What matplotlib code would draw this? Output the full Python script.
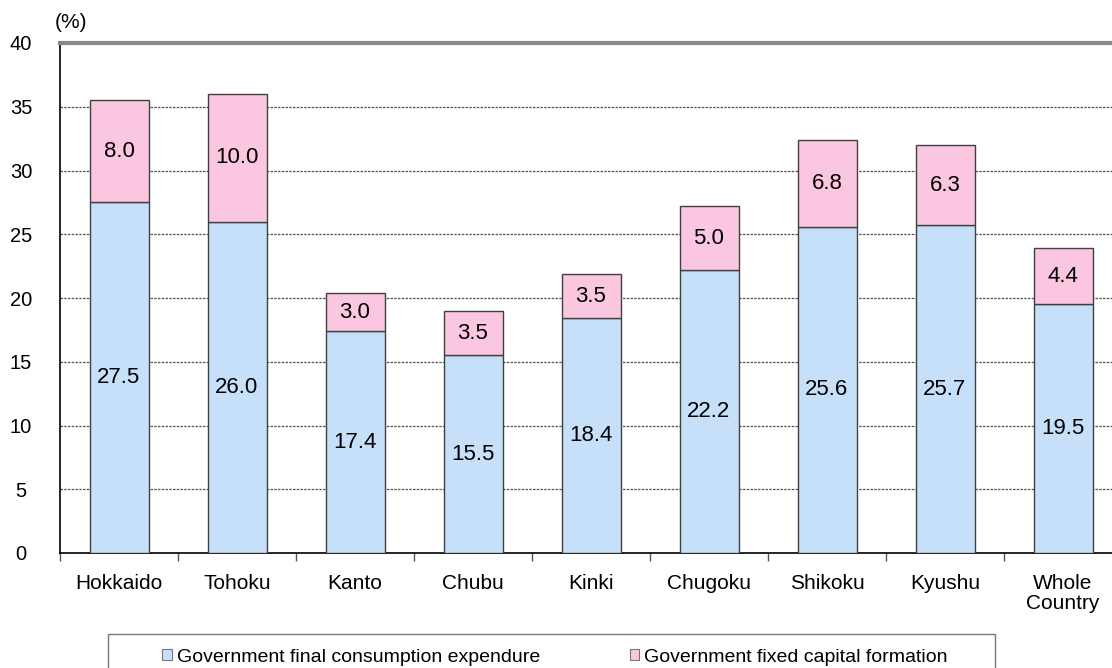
import matplotlib
matplotlib.use("Agg")
import matplotlib.pyplot as plt
from matplotlib.patches import Rectangle, Patch
import numpy as np

regions = ["Hokkaido", "Tohoku", "Kanto", "Chubu", "Kinki", "Chugoku",
           "Shikoku", "Kyushu", "Whole\nCountry"]
consumption = [27.5, 26.0, 17.4, 15.5, 18.4, 22.2, 25.6, 25.7, 19.5]
capital = [8.0, 10.0, 3.0, 3.5, 3.5, 5.0, 6.8, 6.3, 4.4]
series_names = ["Government final consumption expendure",
                "Government fixed capital formation"]
yticks = [0, 5, 10, 15, 20, 25, 30, 35, 40]

plt.rcParams['font.family'] = ['Liberation Sans', 'DejaVu Sans']

W, H = 1112, 668
fig = plt.figure(figsize=(W / 100, H / 100), dpi=100)
ax = fig.add_axes([60 / W, 1 - 553 / H, 1062 / W, 510 / H])

blue = "#c6e0f9"
pink = "#fbc6df"
edge = "#404040"
x = np.arange(len(regions))
ax.bar(x, consumption, width=0.5, color=blue, edgecolor=edge, linewidth=1.0, zorder=3)
ax.bar(x, capital, width=0.5, bottom=consumption, color=pink, edgecolor=edge,
       linewidth=1.0, zorder=3)

for xi, c, k in zip(x, consumption, capital):
    ax.text(xi, c / 2, f"{c:.1f}", ha="center", va="center", fontsize=16, zorder=4)
    ax.text(xi, c + k / 2, f"{k:.1f}", ha="center", va="center", fontsize=16, zorder=4)

ax.set_xlim(-0.5, len(regions) - 0.5)
ax.set_ylim(0, 40)
ax.set_yticks(yticks)
ax.set_yticklabels([str(v) for v in yticks], fontsize=14.5)
ax.tick_params(axis="y", length=0, pad=28)
for lbl in ax.get_yticklabels():
    lbl.set_horizontalalignment("center")
ax.set_xticks(x)
ax.set_xticklabels(regions, fontsize=15, linespacing=1.1)
ax.tick_params(axis="x", length=0, pad=15)
ax.set_xticks(np.arange(len(regions) + 1) - 0.5, minor=True)
ax.tick_params(axis="x", which="minor", length=6, width=1, color="#555555", direction="out")
for v in yticks[1:-1]:
    ax.axhline(v, color="#555555", linestyle=(0, (2, 1)), linewidth=0.9, zorder=1)

ax.spines["left"].set_color("black")
ax.spines["bottom"].set_color("black")
ax.spines["left"].set_linewidth(1.2)
ax.spines["bottom"].set_linewidth(1.2)
ax.spines["top"].set_color("#888888")
ax.spines["top"].set_linewidth(3)
ax.spines["right"].set_visible(False)

fig.text(55 / W, 1 - 22 / H, "(%)", fontsize=15, va="center", ha="left")

# legend box
fig.patches.append(Rectangle((108 / W, 1 - 690 / H), (995 - 108) / W, 56 / H,
                             transform=fig.transFigure, facecolor="white",
                             edgecolor="#777777", linewidth=1.0))
handles = [Patch(facecolor=blue, edgecolor="#777777", linewidth=0.8),
           Patch(facecolor=pink, edgecolor="#777777", linewidth=0.8)]
fig.legend(handles, series_names, loc="center", bbox_to_anchor=(555 / W, 1 - 657 / H),
           ncol=2, frameon=False, fontsize=14, handlelength=0.5, handleheight=0.5,
           handletextpad=0.25, columnspacing=4.6, borderpad=0)

fig.savefig("out.png", dpi=100)
